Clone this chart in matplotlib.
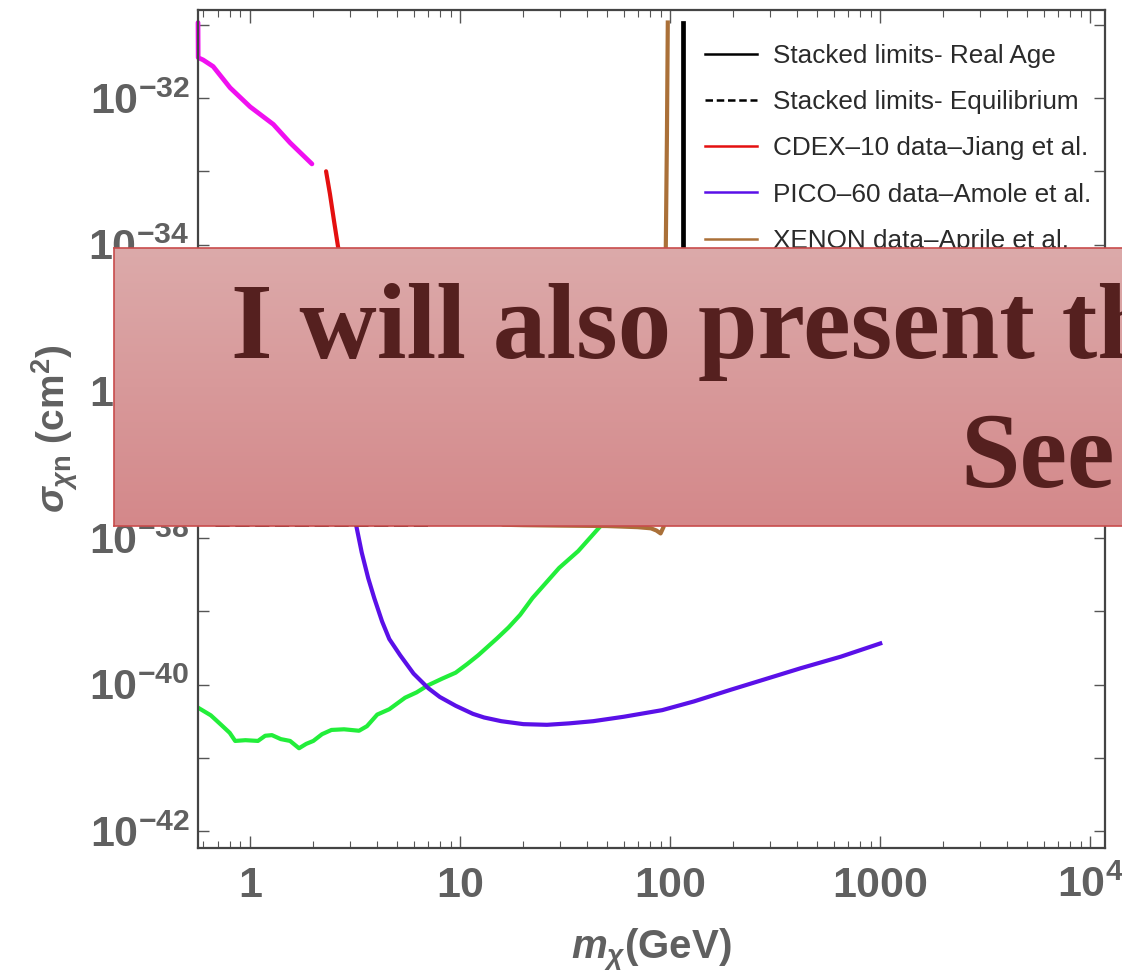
import matplotlib
matplotlib.use("Agg")
import matplotlib.pyplot as plt
from matplotlib.lines import Line2D
import matplotlib.ticker as mticker
import numpy as np

plt.rcParams['font.family'] = ['Liberation Sans', 'DejaVu Sans']
plt.rcParams['mathtext.fontset'] = 'custom'
plt.rcParams['mathtext.rm'] = 'Liberation Sans:bold'
plt.rcParams['mathtext.it'] = 'Liberation Sans:italic:bold'
plt.rcParams['mathtext.bf'] = 'Liberation Sans:bold'

# ---------------- data ----------------
# magenta (low mass limit)
m_mag = [0.565, 0.566, 0.597, 0.667, 0.803, 1.0, 1.29, 1.55, 1.97]
s_mag = [1.07e-31, 3.55e-32, 3.31e-32, 2.69e-32, 1.38e-32, 7.59e-33, 4.37e-33, 2.45e-33, 1.26e-33]

# CDEX-10 (red)
m_cdex = [2.30, 2.40, 2.51, 2.62, 2.83, 3.06]
s_cdex = [1.0e-33, 4.9e-34, 2.09e-34, 9.5e-35, 2.5e-35, 3.8e-36]

# PICO-60 (purple)
m_pico = [2.9, 3.20, 3.4, 3.65, 3.9, 4.25, 4.6, 5.18, 6.0, 7.05, 8.0, 9.52, 11.5, 13.0, 15.7, 20,
          25.9, 33, 43.0, 60, 91.6, 130, 195, 280, 416, 650, 1000]
s_pico = [1.26e-37, 1.48e-38, 6.31e-39, 2.82e-39, 1.51e-39, 7.24e-40, 4.17e-40, 2.51e-40, 1.41e-40,
          8.91e-41, 6.76e-41, 5.13e-41, 3.98e-41, 3.55e-41, 3.16e-41, 2.88e-41, 2.82e-41, 2.95e-41,
          3.16e-41, 3.63e-41, 4.47e-41, 5.89e-41, 8.51e-41, 1.17e-40, 1.66e-40, 2.40e-40, 3.63e-40]

# green
m_green = [0.568, 0.65, 0.728, 0.80, 0.849, 0.95, 1.09, 1.18, 1.27, 1.40, 1.55, 1.71, 1.85, 2.0,
           2.2, 2.44, 2.8, 3.30, 3.6, 4.03, 4.6, 5.47, 6.2, 7.04, 8.2, 9.52, 10.8, 12.2, 15.0,
           17.0, 19.3, 22.1, 25.5, 29.6, 36.5, 46.9, 60]
s_green = [4.79e-41, 3.80e-41, 2.82e-41, 2.19e-41, 1.70e-41, 1.74e-41, 1.70e-41, 2.00e-41, 2.04e-41,
           1.80e-41, 1.70e-41, 1.35e-41, 1.55e-41, 1.70e-41, 2.10e-41, 2.40e-41, 2.45e-41, 2.34e-41,
           2.70e-41, 3.89e-41, 4.60e-41, 6.61e-41, 7.80e-41, 9.77e-41, 1.20e-40, 1.45e-40, 1.90e-40,
           2.51e-40, 4.27e-40, 6.00e-40, 8.91e-40, 1.51e-39, 2.40e-39, 3.89e-39, 6.61e-39, 1.48e-38,
           3.98e-38]

# XENON (brown)
m_xenon = [14.0, 16.0, 20, 30, 50, 70, 81, 86, 90, 93, 94.5, 95.3, 96.5, 97.4]
s_xenon = [2.0e-38, 1.51e-38, 1.49e-38, 1.47e-38, 1.45e-38, 1.40e-38, 1.35e-38, 1.26e-38, 1.15e-38,
           1.41e-38, 2.51e-38, 9.33e-35, 3.16e-33, 1.07e-31]

# stacked limits
m_real = [115, 115]
s_real = [1.07e-31, 1.0e-35]
m_equil = [0.68, 7.4]
s_equil = [1.55e-38, 1.55e-38]

x_ticks = [1, 10, 100, 1000, 10000]
x_ticklabels = [r'$1$', r'$10$', r'$100$', r'$1000$', r'$10^4$']
y_ticks = [1e-42, 1e-40, 1e-38, 1e-36, 1e-34, 1e-32]
y_ticklabels = [r'$10^{-42}$', r'$10^{-40}$', r'$10^{-38}$', r'$10^{-36}$', r'$10^{-34}$', r'$10^{-32}$']

legend_labels = ['Stacked limits- Real Age', 'Stacked limits- Equilibrium',
                 'CDEX\u201310 data\u2013Jiang et al.', 'PICO\u201360 data\u2013Amole et al.',
                 'XENON data\u2013Aprile et al.']

banner_line1 = 'I will also present th'
banner_line2 = 'See'

# ---------------- figure ----------------
W, H = 1122, 974
fig = plt.figure(figsize=(W / 100, H / 100), dpi=100)
ax = fig.add_axes([198 / W, 1 - 848 / H, (1105 - 198) / W, (848 - 10) / H])

c_mag = '#f010f0'
c_red = '#e41010'
c_pur = '#5a10e8'
c_grn = '#22ee3a'
c_brn = '#aa7038'

lw = 3.0
ax.plot(m_mag, s_mag, color=c_mag, lw=3.4, solid_capstyle='round', clip_on=False)
ax.plot(m_cdex, s_cdex, color=c_red, lw=lw, solid_capstyle='round')
ax.plot(m_green, s_green, color=c_grn, lw=lw)
ax.plot(m_pico, s_pico, color=c_pur, lw=lw)
ax.plot(m_xenon, s_xenon, color=c_brn, lw=lw)
ax.plot(m_real, s_real, color='black', lw=3.4)
ax.plot(m_equil, s_equil, color='black', lw=3.4, ls=(0, (3, 1.2)))

ax.set_xscale('log')
ax.set_yscale('log')
ax.set_xlim(10 ** -0.248, 10 ** 4.07)
ax.set_ylim(10 ** -42.23, 10 ** -30.8)

tick_col = '#606060'
ax.set_xticks(x_ticks)
ax.set_xticklabels(x_ticklabels)
ax.xaxis.set_minor_locator(mticker.LogLocator(base=10, subs=np.arange(2, 10), numticks=20))
ax.xaxis.set_minor_formatter(mticker.NullFormatter())
ax.yaxis.set_major_locator(mticker.FixedLocator(y_ticks))
ax.set_yticklabels(y_ticklabels)
ax.yaxis.set_minor_locator(mticker.LogLocator(base=10, subs=[1.0], numticks=30))
ax.yaxis.set_minor_formatter(mticker.NullFormatter())

ax.tick_params(which='both', direction='in', top=True, right=True, colors='#555555',
               labelcolor=tick_col, labelsize=31)
ax.tick_params(axis='x', which='major', length=9, width=1.0, pad=13)
ax.tick_params(axis='x', which='minor', length=5, width=0.8)
ax.tick_params(axis='y', which='major', length=8, width=1.0, pad=6)
ax.tick_params(axis='y', which='minor', length=8, width=1.0)
for sp in ax.spines.values():
    sp.set_color('#444444')
    sp.set_linewidth(1.6)

ax.set_xlabel(r'$m_\chi$(GeV)', fontsize=29, color=tick_col, fontweight='bold', labelpad=15)
ax.set_ylabel(r'$\sigma_{\chi\mathrm{n}}$ (cm$^2$)', fontsize=28, color=tick_col,
              fontweight='bold', labelpad=6)

handles = [Line2D([], [], color='black', lw=1.8),
           Line2D([], [], color='black', lw=1.8, ls=(0, (3, 1.5))),
           Line2D([], [], color=c_red, lw=1.8),
           Line2D([], [], color=c_pur, lw=1.8),
           Line2D([], [], color=c_brn, lw=1.8)]
ax.legend(handles, legend_labels, loc='upper left', bbox_to_anchor=(705 / W, 1 - 44 / H),
          bbox_transform=fig.transFigure, frameon=False, fontsize=18.8, handlelength=2.0,
          handletextpad=0.6, labelspacing=0.85, borderpad=0, borderaxespad=0,
          labelcolor='#2a2a2a')

# ---------------- overlay banner ----------------
bx0, by0, by1 = 114, 248.3, 525.7
bax = fig.add_axes([bx0 / W, 1 - by1 / H, (W - bx0 + 20) / W, (by1 - by0) / H], zorder=5)
grad = np.linspace(0, 1, 256).reshape(-1, 1)
cmap = matplotlib.colors.LinearSegmentedColormap.from_list('banner', ['#dcaaaa', '#d4888a'])
bax.imshow(grad, aspect='auto', cmap=cmap, extent=[0, 1, 1, 0])
bax.set_xticks([])
bax.set_yticks([])
for sp in bax.spines.values():
    sp.set_color('#c84c4c')
    sp.set_linewidth(1.2)

txt_col = '#55201f'
fig.text(231 / W, 1 - 358 / H, banner_line1, fontsize=77, fontweight='bold',
         family='Liberation Serif', color=txt_col, ha='left', va='baseline', zorder=6)
fig.text(960 / W, 1 - 487 / H, banner_line2, fontsize=77, fontweight='bold',
         family='Liberation Serif', color=txt_col, ha='left', va='baseline', zorder=6)

fig.savefig('out.png', dpi=100)
